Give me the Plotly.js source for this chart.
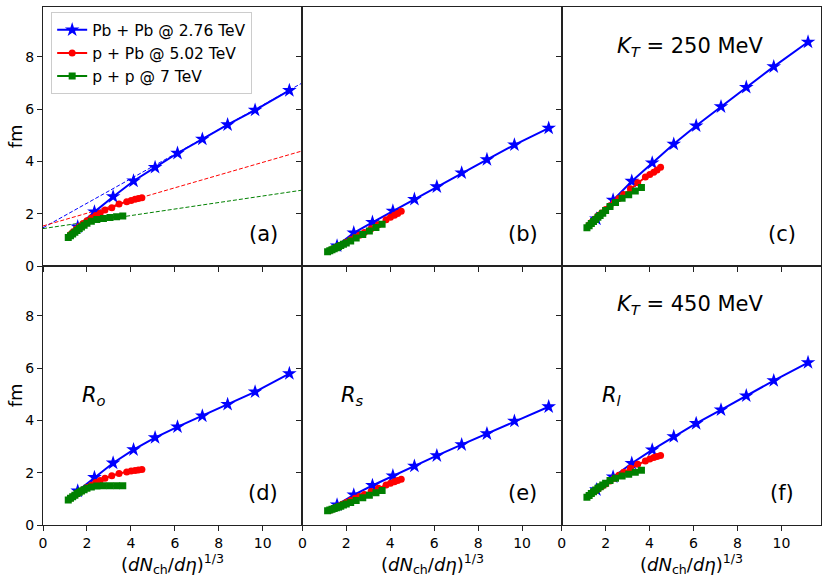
<!DOCTYPE html>
<html>
<head>
<meta charset="utf-8">
<script src="https://cdn.plot.ly/plotly-3.0.1.min.js"></script>
<style>html,body{margin:0;padding:0;background:#fff;}#chart{width:831px;height:577px;}</style>
</head>
<body>
<div id="chart"></div>
<script>
// ---- data ----
var panelLabels = ["(a)", "(b)", "(c)", "(d)", "(e)", "(f)"];
var seriesNames = ["Pb + Pb @ 2.76 TeV", "p + Pb @ 5.02 TeV", "p + p @ 7 TeV"];

var pbpbX = [1.58, 2.34, 3.19, 4.12, 5.10, 6.12, 7.25, 8.40, 9.65, 11.21];
var pbpbA = [1.50, 2.07, 2.65, 3.25, 3.77, 4.31, 4.85, 5.40, 5.96, 6.71];
var pbpbB = [0.77, 1.27, 1.67, 2.10, 2.55, 3.03, 3.56, 4.07, 4.63, 5.27];
var pbpbC = [1.80, 2.52, 3.24, 3.94, 4.66, 5.36, 6.09, 6.83, 7.62, 8.56];
var pbpbD = [1.30, 1.82, 2.37, 2.88, 3.34, 3.75, 4.17, 4.61, 5.09, 5.79];
var pbpbE = [0.77, 1.15, 1.51, 1.88, 2.25, 2.65, 3.07, 3.49, 3.97, 4.52];
var pbpbF = [1.35, 1.84, 2.36, 2.87, 3.38, 3.88, 4.40, 4.94, 5.52, 6.21];

var ppbX = [1.25, 1.38, 1.52, 1.66, 1.82, 2.00, 2.20, 2.40, 2.60, 2.82, 3.13, 3.46, 3.81, 4.01, 4.19, 4.34, 4.50];
var ppbA = [1.20, 1.31, 1.41, 1.51, 1.62, 1.73, 1.83, 1.93, 2.02, 2.14, 2.23, 2.37, 2.46, 2.50, 2.55, 2.58, 2.61];
var ppbB = [0.58, 0.64, 0.70, 0.76, 0.83, 0.91, 1.00, 1.09, 1.18, 1.28, 1.42, 1.58, 1.77, 1.86, 1.94, 2.01, 2.09];
var ppbC = [1.57, 1.68, 1.80, 1.91, 2.03, 2.16, 2.30, 2.44, 2.58, 2.73, 2.95, 3.18, 3.40, 3.50, 3.58, 3.67, 3.77];
var ppbD = [1.02, 1.10, 1.18, 1.26, 1.34, 1.43, 1.52, 1.62, 1.70, 1.79, 1.88, 1.97, 2.03, 2.06, 2.08, 2.10, 2.12];
var ppbE = [0.56, 0.61, 0.67, 0.72, 0.79, 0.86, 0.94, 1.02, 1.09, 1.17, 1.28, 1.40, 1.53, 1.60, 1.65, 1.70, 1.75];
var ppbF = [1.14, 1.22, 1.30, 1.38, 1.47, 1.57, 1.68, 1.79, 1.90, 2.02, 2.17, 2.32, 2.45, 2.52, 2.58, 2.62, 2.66];

var ppX = [1.15, 1.25, 1.35, 1.45, 1.55, 1.65, 1.75, 1.87, 2.00, 2.20, 2.45, 2.75, 3.05, 3.35, 3.63];
var ppA = [1.09, 1.16, 1.22, 1.29, 1.36, 1.43, 1.49, 1.56, 1.63, 1.71, 1.78, 1.82, 1.85, 1.88, 1.91];
var ppB = [0.54, 0.58, 0.62, 0.66, 0.70, 0.74, 0.78, 0.83, 0.88, 0.96, 1.07, 1.20, 1.34, 1.47, 1.60];
var ppC = [1.46, 1.54, 1.62, 1.70, 1.78, 1.86, 1.93, 2.02, 2.12, 2.27, 2.43, 2.59, 2.72, 2.87, 3.00];
var ppD = [0.96, 1.02, 1.08, 1.14, 1.20, 1.25, 1.30, 1.35, 1.40, 1.45, 1.49, 1.50, 1.50, 1.50, 1.50];
var ppE = [0.54, 0.57, 0.60, 0.63, 0.66, 0.69, 0.72, 0.76, 0.80, 0.86, 0.94, 1.04, 1.14, 1.23, 1.32];
var ppF = [1.06, 1.13, 1.20, 1.27, 1.34, 1.40, 1.46, 1.53, 1.60, 1.70, 1.79, 1.87, 1.94, 2.02, 2.09];

// dashed guide lines in panel (a)
var fitX = [0, 11.8];
var fitPbPb = [1.46, 7.00];
var fitPPb = [1.53, 4.40];
var fitPP = [1.43, 2.90];

var xTicks = [0, 2, 4, 6, 8, 10];
var yTicks = [0, 2, 4, 6, 8];
var xTitle = "(<i>dN</i><sub>ch</sub>/<i>d\u03b7</i>)<sup>1/3</sup>";
var yTitle = "fm";

// ---- build figure ----
var FONT = "DejaVu Sans, Liberation Sans, sans-serif";
var colors = ["#0000ff", "#ff0000", "#008000"];
var symbols = ["star", "circle", "square"];
var msizes = [11, 7, 7];
var pbpbY = [pbpbA, pbpbB, pbpbC, pbpbD, pbpbE, pbpbF];
var ppbY = [ppbA, ppbB, ppbC, ppbD, ppbE, ppbF];
var ppY = [ppA, ppB, ppC, ppD, ppE, ppF];
var xs = [pbpbX, ppbX, ppX];

var data = [];
[fitPbPb, fitPPb, fitPP].forEach(function (fy, k) {
  data.push({x: fitX, y: fy, xaxis: "x", yaxis: "y", mode: "lines", showlegend: false,
    hoverinfo: "skip", line: {color: colors[k], width: 1, dash: "4px,2px"}});
});
for (var p = 0; p < 6; p++) {
  var ax = p === 0 ? "" : String(p + 1);
  var ys = [pbpbY[p], ppbY[p], ppY[p]];
  for (var k = 0; k < 3; k++) {
    data.push({
      x: xs[k], y: ys[k], xaxis: "x" + ax, yaxis: "y" + ax,
      mode: "lines+markers", name: seriesNames[k], legendgroup: "g" + k,
      showlegend: p === 0,
      line: {color: colors[k], width: 2},
      marker: {color: colors[k], symbol: symbols[k], size: msizes[k], line: {width: 0}}
    });
  }
}

var layout = {
  width: 831, height: 577,
  margin: {l: 43, r: 10, t: 7, b: 52},
  paper_bgcolor: "#fff", plot_bgcolor: "#fff",
  font: {family: FONT, size: 14, color: "#000"},
  showlegend: true,
  legend: {x: 0.0105, y: 0.99, xanchor: "left", yanchor: "top",
    bgcolor: "rgba(255,255,255,0.8)", bordercolor: "#cccccc", borderwidth: 1,
    font: {family: FONT, size: 15.5, color: "#000"}, tracegroupgap: 0, traceorder: "grouped",
    itemwidth: 30},
  annotations: []
};

var colDom = [[0, 1/3], [1/3, 2/3], [2/3, 1]];
var rowDom = [[0.5, 1], [0, 0.5]];
for (var p = 0; p < 6; p++) {
  var r = Math.floor(p / 3), c = p % 3;
  var sfx = p === 0 ? "" : String(p + 1);
  layout["xaxis" + sfx] = {
    domain: colDom[c], anchor: "y" + sfx, range: [0, 11.8],
    tickvals: xTicks, ticktext: xTicks.map(String), ticks: "outside", ticklen: 5, tickwidth: 1,
    tickcolor: "#222", showline: true, linecolor: "#222", linewidth: 1, mirror: true,
    showgrid: false, zeroline: false, showticklabels: r === 1,
    tickfont: {family: FONT, size: 14, color: "#000"}, fixedrange: true
  };
  layout["yaxis" + sfx] = {
    domain: rowDom[r], anchor: "x" + sfx, range: [0, 9.9],
    tickvals: yTicks, ticktext: yTicks.map(String), ticks: "outside", ticklen: 5, tickwidth: 1,
    tickcolor: "#222", showline: true, linecolor: "#222", linewidth: 1, mirror: true,
    showgrid: false, zeroline: false, showticklabels: c === 0,
    tickfont: {family: FONT, size: 14, color: "#000"}, fixedrange: true
  };
  layout.annotations.push({text: panelLabels[p], xref: "x" + sfx, yref: "y" + sfx,
    x: 10.02, y: 1.24, xanchor: "center", yanchor: "middle", showarrow: false,
    font: {family: FONT, size: 21, color: "#000"}});
}
// axis titles (placed as in reference)
for (var c = 0; c < 3; c++) {
  layout.annotations.push({text: xTitle, xref: "paper", yref: "paper",
    x: (colDom[c][0] + colDom[c][1]) / 2, y: -0.047, xanchor: "center", yanchor: "top",
    showarrow: false, font: {family: FONT, size: 18, color: "#000"}});
}
for (var r = 0; r < 2; r++) {
  layout.annotations.push({text: yTitle, xref: "paper", yref: "paper",
    x: -0.035, y: (rowDom[r][0] + rowDom[r][1]) / 2, xanchor: "center", yanchor: "middle",
    textangle: -90, showarrow: false, font: {family: FONT, size: 18, color: "#000"}});
}
layout.annotations.push({text: "<i>K<sub>T</sub></i> = 250 MeV", xref: "x3", yref: "y3",
  x: 5.84, y: 8.38, xanchor: "center", yanchor: "middle", showarrow: false,
  font: {family: FONT, size: 21, color: "#000"}});
layout.annotations.push({text: "<i>K<sub>T</sub></i> = 450 MeV", xref: "x6", yref: "y6",
  x: 5.84, y: 8.41, xanchor: "center", yanchor: "middle", showarrow: false,
  font: {family: FONT, size: 21, color: "#000"}});
var rLabels = ["<i>R<sub>o</sub></i>", "<i>R<sub>s</sub></i>", "<i>R<sub>l</sub></i>"];
rLabels.forEach(function (t, i) {
  layout.annotations.push({text: t, xref: "x" + (i + 4), yref: "y" + (i + 4),
    x: 2.3, y: 4.95, xanchor: "center", yanchor: "middle", showarrow: false,
    font: {family: FONT, size: 21, color: "#000"}});
});

Plotly.newPlot("chart", data, layout, {displayModeBar: false, staticPlot: true});
</script>
</body>
</html>
